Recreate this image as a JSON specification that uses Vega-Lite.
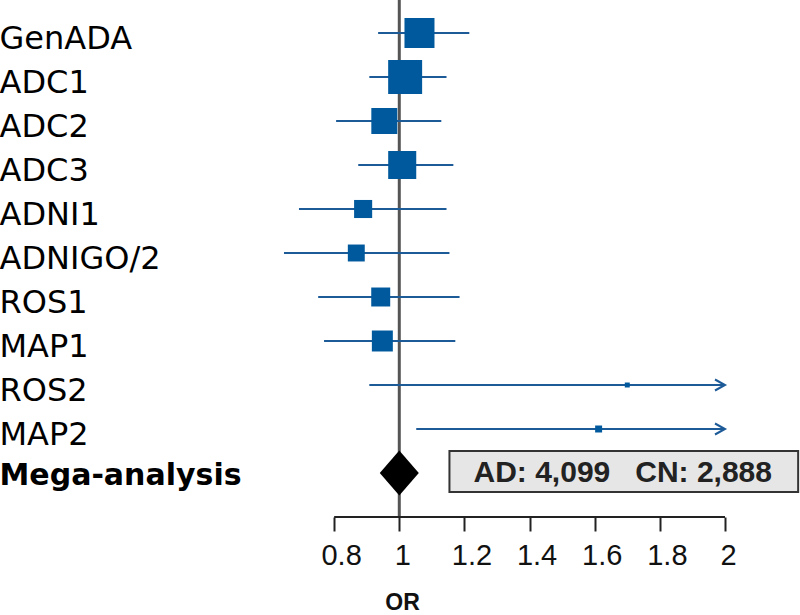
{
  "$schema": "https://vega.github.io/schema/vega-lite/v6.json",
  "width": 456,
  "height": 517,
  "autosize": {"type": "none"},
  "padding": {"left": 269, "top": 0, "right": 75, "bottom": 98},
  "background": "white",
  "config": {"view": {"stroke": null}, "axis": {"grid": false}},
  "datasets": {
    "studies": [
      {"study": "GenADA", "row": 0, "or": 1.062, "lo": 0.935, "hi": 1.215, "weight": 13.5},
      {"study": "ADC1", "row": 1, "or": 1.018, "lo": 0.908, "hi": 1.145, "weight": 17.3},
      {"study": "ADC2", "row": 2, "or": 0.954, "lo": 0.806, "hi": 1.129, "weight": 10.1},
      {"study": "ADC3", "row": 3, "or": 1.009, "lo": 0.874, "hi": 1.166, "weight": 11.8},
      {"study": "ADNI1", "row": 4, "or": 0.889, "lo": 0.692, "hi": 1.145, "weight": 4.9},
      {"study": "ADNIGO/2", "row": 5, "or": 0.868, "lo": 0.646, "hi": 1.154, "weight": 4.3},
      {"study": "ROS1", "row": 6, "or": 0.943, "lo": 0.751, "hi": 1.185, "weight": 5.4},
      {"study": "MAP1", "row": 7, "or": 0.948, "lo": 0.769, "hi": 1.172, "weight": 6.6},
      {"study": "ROS2", "row": 8, "or": 1.70, "lo": 0.908, "hi": 3.18, "weight": 0.37},
      {"study": "MAP2", "row": 9, "or": 1.612, "lo": 1.052, "hi": 2.47, "weight": 0.73},
      {"study": "Mega-analysis", "row": 10, "or": 1.0, "lo": 0.94, "hi": 1.06, "weight": null}
    ],
    "note": [{"label": "AD: 4,099\u00a0\u00a0\u00a0CN: 2,888"}]
  },
  "data": {"name": "studies"},
  "layer": [
    {
      "data": {"name": "note"},
      "mark": {"type": "rule", "color": "#555555", "strokeWidth": 3},
      "encoding": {
        "x": {"datum": 1, "type": "quantitative"}
      }
    },
    {
      "transform": [{"filter": "datum.weight != null && datum.hi <= 2"}],
      "mark": {"type": "rule", "color": "#1d5b98", "strokeWidth": 2},
      "encoding": {
        "x": {"field": "lo", "type": "quantitative"},
        "x2": {"field": "hi"},
        "y": {"field": "row", "type": "quantitative"}
      }
    },
    {
      "transform": [{"filter": "datum.hi > 2"}],
      "mark": {"type": "rule", "color": "#1d5b98", "strokeWidth": 2},
      "encoding": {
        "x": {"field": "lo", "type": "quantitative"},
        "x2": {"datum": 2},
        "y": {"field": "row", "type": "quantitative"}
      }
    },
    {
      "transform": [{"filter": "datum.hi > 2"}],
      "mark": {"type": "point", "shape": "M-1,-0.55L0,0L-1,0.55", "filled": false, "stroke": "#1d5b98", "strokeWidth": 2, "size": 400, "opacity": 1},
      "encoding": {
        "x": {"datum": 2, "type": "quantitative"},
        "y": {"field": "row", "type": "quantitative"}
      }
    },
    {
      "transform": [{"filter": "datum.weight != null"}],
      "mark": {"type": "point", "shape": "square", "filled": true, "color": "#00599c", "opacity": 1},
      "encoding": {
        "x": {
          "field": "or", "type": "quantitative",
          "scale": {"domain": [0.6, 2], "nice": false, "zero": false},
          "axis": {
            "values": [0.8, 1, 1.2, 1.4, 1.6, 1.8, 2],
            "format": "~g",
            "domain": false,
            "grid": false,
            "tickSize": 14,
            "tickWidth": 2,
            "tickColor": "#222222",
            "labelFont": "Arial",
            "labelFontSize": 29,
            "labelColor": "#111111",
            "labelPadding": 10,
            "labelBaseline": "top",
            "labelFlush": false,
            "labelOverlap": false,
            "labelOffset": {"condition": {"test": "datum.value % 1 == 0", "value": 3}, "value": 7},
            "title": "OR",
            "titleFont": "Arial",
            "titleFontSize": 23,
            "titleFontWeight": "bold",
            "titleColor": "#111111",
            "titleX": 133,
            "titleY": 74,
            "titleAlign": "center",
            "titleBaseline": "top"
          }
        },
        "y": {
          "field": "row", "type": "quantitative",
          "scale": {"domain": [-0.75, 11], "reverse": true, "nice": false, "zero": false},
          "axis": {
            "values": [0, 1, 2, 3, 4, 5, 6, 7, 8, 9, 10],
            "labelExpr": "['GenADA','ADC1','ADC2','ADC3','ADNI1','ADNIGO/2','ROS1','MAP1','ROS2','MAP2','Mega-analysis'][datum.value]",
            "domain": false,
            "ticks": false,
            "tickSize": 0,
            "grid": false,
            "labelAlign": "left",
            "labelPadding": 270,
            "labelLimit": 0,
            "labelFont": "DejaVu Sans",
            "labelFontSize": {"condition": {"test": "datum.value == 10", "value": 30}, "value": 32},
            "labelFontWeight": {"condition": {"test": "datum.value == 10", "value": "bold"}, "value": "normal"},
            "labelColor": "#000000",
            "labelBaseline": "middle",
            "labelOffset": {"condition": {"test": "datum.value == 10", "value": 2}, "value": 5},
            "labelOverlap": false,
            "labelFlush": false,
            "labelBound": false,
            "title": null
          }
        },
        "size": {
          "field": "weight", "type": "quantitative",
          "scale": {"domain": [0, 20], "range": [0, 1334], "zero": true},
          "legend": null
        }
      }
    },
    {
      "transform": [{"filter": "datum.weight == null"}],
      "mark": {"type": "point", "shape": "M0,-1.154L1,0L0,1.154L-1,0Z", "filled": true, "color": "#000000", "size": 1521, "opacity": 1},
      "encoding": {
        "x": {"field": "or", "type": "quantitative"},
        "y": {"field": "row", "type": "quantitative"}
      }
    },
    {
      "data": {"name": "note"},
      "mark": {"type": "rule", "color": "#222222", "strokeWidth": 2},
      "encoding": {
        "x": {"datum": 0.8, "type": "quantitative"},
        "x2": {"datum": 2},
        "y": {"datum": 11, "type": "quantitative"}
      }
    },
    {
      "data": {"name": "note"},
      "mark": {"type": "rect", "fill": "#e6e6e6", "stroke": "#333333", "strokeWidth": 2},
      "encoding": {
        "x": {"datum": 1.154, "type": "quantitative"},
        "x2": {"datum": 2.2246},
        "y": {"datum": 9.5, "type": "quantitative"},
        "y2": {"datum": 10.432}
      }
    },
    {
      "data": {"name": "note"},
      "mark": {"type": "text", "font": "Arial", "fontSize": 30, "fontWeight": "bold", "color": "#222222", "align": "center", "baseline": "middle"},
      "encoding": {
        "x": {"datum": 1.6861, "type": "quantitative"},
        "y": {"datum": 10, "type": "quantitative"},
        "text": {"field": "label"}
      }
    }
  ]
}
